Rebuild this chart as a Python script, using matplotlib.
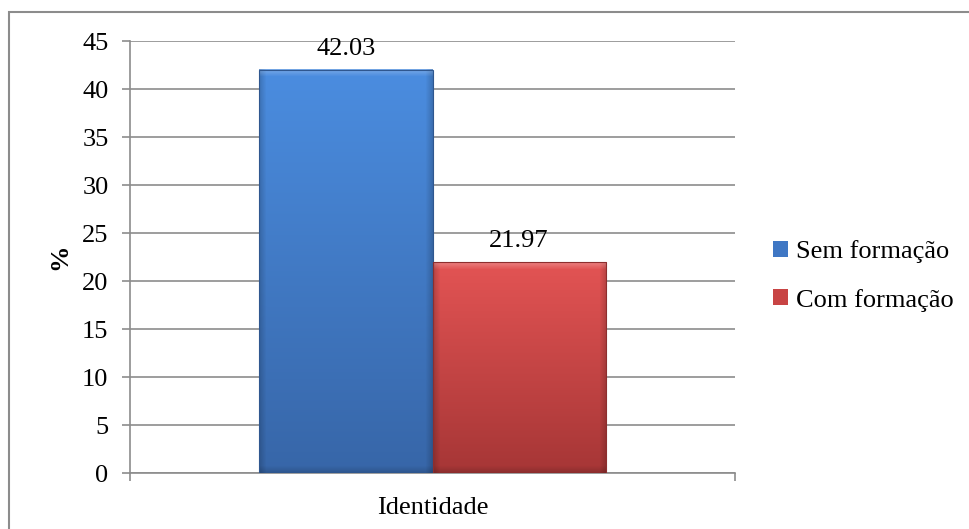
import numpy as np
import matplotlib.pyplot as plt
from matplotlib.patches import Rectangle, Patch
from matplotlib.colors import to_rgb

plt.rcParams['font.family'] = ['Liberation Serif', 'DejaVu Serif']

category = 'Identidade'
series = ['Sem formação', 'Com formação']
values = [42.03, 21.97]
yticks = [0, 5, 10, 15, 20, 25, 30, 35, 40, 45]

top_colors = ['#4b8de0', '#e35454']
bottom_colors = ['#3766a8', '#a63636']
legend_colors = ['#3f77c4', '#c84444']

fs = 19
bar_w = 0.286
offsets = [-bar_w / 2, bar_w / 2]

fig = plt.figure(figsize=(9.69, 5.29), dpi=100)
ax = fig.add_axes([130 / 969, 1 - 473 / 529, 605 / 969, 432 / 529])
ax.set_xlim(-0.5, 0.5)
ax.set_ylim(0, 45)

# outer chart border
fig.patches.append(Rectangle((9 / 969, -0.1), 1.2, 1 - 11.5 / 529 + 0.1,
                             transform=fig.transFigure, fill=False,
                             edgecolor='#8c8c8c', linewidth=1.5, zorder=0))

for sp in ['top', 'right']:
    ax.spines[sp].set_visible(False)
for sp in ['left', 'bottom']:
    ax.spines[sp].set_color('#8c8c8c')
    ax.spines[sp].set_linewidth(1.2)

ax.set_yticks(yticks)
ax.set_yticklabels([str(t) for t in yticks], fontsize=fs)
ax.tick_params(axis='y', direction='out', length=5.5, color='#8c8c8c', width=1.2, pad=10)
ax.set_xticks([-0.5, 0.5])
ax.set_xticklabels(['', ''])
ax.tick_params(axis='x', direction='out', length=5.5, color='#8c8c8c', width=1.2)
ax.grid(axis='y', color='#8c8c8c', linewidth=1.2)
ax.set_axisbelow(True)
ax.text(0, -0.055, category, transform=ax.get_xaxis_transform(), ha='center', va='top', fontsize=fs)
ax.set_ylabel('%', fontsize=fs, fontweight='bold', labelpad=8)


def bevel_bar(x0, height, c_top, c_bot):
    x1 = x0 + bar_w
    p0 = ax.transData.transform((x0, 0))
    p1 = ax.transData.transform((x1, height))
    nx = max(int(round(p1[0] - p0[0])), 2)
    ny = max(int(round(p1[1] - p0[1])), 2)
    t = np.linspace(0, 1, ny)[:, None]
    top = np.array(to_rgb(c_top))
    bot = np.array(to_rgb(c_bot))
    img = top[None, None, :] * (1 - t[..., None]) + bot[None, None, :] * t[..., None]
    img = np.repeat(img, nx, axis=1)
    xx = np.arange(nx)[None, :]
    yy = np.arange(ny)[:, None]
    bw = 7.0
    # light top edge, darker sides and bottom
    shade = np.ones((ny, nx))
    dl = np.clip(xx / bw, 0, 1)
    dr = np.clip((nx - 1 - xx) / bw, 0, 1)
    db = np.clip((ny - 1 - yy) / bw, 0, 1)
    dt = np.clip(yy / bw, 0, 1)
    side = np.minimum(dl, dr)
    shade = shade * (0.82 + 0.18 * side) * (0.85 + 0.15 * db)
    img = img * shade[..., None]
    light = (1 - dt) * 0.25
    img = img + (1 - img) * light[..., None]
    img = np.clip(img, 0, 1)
    ax.imshow(img, extent=[x0, x1, 0, height], aspect='auto', origin='upper',
              interpolation='bilinear', zorder=3)
    ax.add_patch(Rectangle((x0, 0), bar_w, height, fill=False,
                           edgecolor=np.array(to_rgb(c_bot)) * 0.85, linewidth=0.8, zorder=4))


for i, v in enumerate(values):
    x0 = offsets[i] - bar_w / 2
    bevel_bar(x0, v, top_colors[i], bottom_colors[i])
    ax.annotate(f'{v:.2f}', (offsets[i], v), xytext=(0, 7), textcoords='offset points',
                ha='center', va='bottom', fontsize=fs, zorder=5)

ax.set_xlim(-0.5, 0.5)
ax.set_ylim(0, 45)

handles = [Patch(facecolor=c, edgecolor='none') for c in legend_colors]
fig.legend(handles, series, loc='center left', bbox_to_anchor=(760 / 969, 1 - 276 / 529),
           frameon=False, fontsize=fs, handlelength=0.55, handleheight=0.55,
           handletextpad=0.3, labelspacing=0.95, borderpad=0)

fig.savefig('out.png', dpi=100)
